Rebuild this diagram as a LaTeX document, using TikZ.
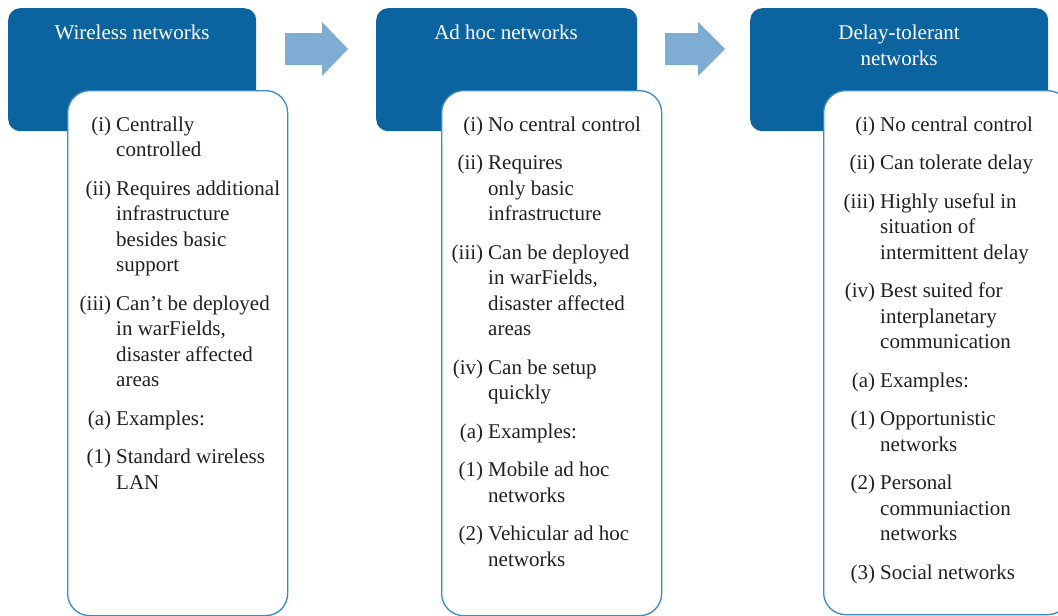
\documentclass[tikz,border=0pt]{standalone}
\usepackage{fontspec}
\setmainfont{Liberation Serif}
\usepackage{array}
\definecolor{hdrblue}{HTML}{0B64A0}
\definecolor{arrblue}{HTML}{7EACD2}
\definecolor{edgeblue}{HTML}{3A89C9}
\definecolor{txtgray}{HTML}{231F20}
\newcommand{\lb}[1]{\makebox[40pt][r]{#1}}
\begin{document}
\begin{tikzpicture}[x=1pt,y=-1pt,
  hdr/.style={fill=hdrblue, draw=none, rounded corners=12pt, anchor=north west, inner sep=0},
  card/.style={fill=white, draw=edgeblue, line width=1.3pt, rounded corners=22pt, anchor=north west, inner sep=0},
  flow/.style={fill=arrblue, draw=none},
  hdrtext/.style={text=white, font=\fontsize{21}{26}\selectfont, inner sep=0, anchor=base},
  listtext/.style={text=txtgray, font=\fontsize{21}{25.5}\selectfont, inner sep=0, anchor=base west}]
\useasboundingbox (0,0) rectangle (1058,616);
\fill[white] (0,0) rectangle (1058,616);
\begin{scope}
\clip (0,0) rectangle (1058,616);
% header boxes
\node[hdr, minimum width=248pt, minimum height=123pt] (h1) at (8,8) {};
\node[hdr, minimum width=261pt, minimum height=123pt] (h2) at (376,8) {};
\node[hdr, minimum width=298pt, minimum height=123pt] (h3) at (750,8) {};
% block arrows
\fill[flow] (285,33) -- (322,33) -- (322,22) -- (348,49) -- (322,76) -- (322,65) -- (285,65) -- cycle;
\fill[flow] (665,33) -- (698,33) -- (698,22) -- (725,49) -- (698,76) -- (698,65) -- (665,65) -- cycle;
% cards
\node[card, minimum width=220pt, minimum height=525pt] (c1) at (67,90) {};
\node[card, minimum width=220pt, minimum height=525pt] (c2) at (441,90) {};
\node[card, minimum width=246pt, minimum height=524pt] (c3) at (823,90) {};
\end{scope}
% header titles
\node[hdrtext] (t1) at (132,39) {Wireless networks};
\node[hdrtext] (t2) at (506,39) {Ad hoc networks};
\node[hdrtext] (t3) at (899,39) {\begin{tabular}[t]{@{}c@{}}Delay-tolerant\\networks\end{tabular}};
% lists
\node[listtext] (l1) at (71,131) {\begin{tabular}[t]{@{}r@{\hspace{5pt}}l@{}}
\lb{(i)} & Centrally\\ & controlled\\[13pt]
\lb{(ii)} & Requires additional\\ & infrastructure\\ & besides basic\\ & support\\[13pt]
\lb{(iii)} & Can’t be deployed\\ & in warFields,\\ & disaster affected\\ & areas\\[13pt]
\lb{(a)} & Examples:\\[13pt]
\lb{(1)} & Standard wireless\\ & LAN
\end{tabular}};
\node[listtext] (l2) at (443,131) {\begin{tabular}[t]{@{}r@{\hspace{5pt}}l@{}}
\lb{(i)} & No central control\\[13pt]
\lb{(ii)} & Requires\\ & only basic\\ & infrastructure\\[13pt]
\lb{(iii)} & Can be deployed\\ & in warFields,\\ & disaster affected\\ & areas\\[13pt]
\lb{(iv)} & Can be setup\\ & quickly\\[13pt]
\lb{(a)} & Examples:\\[13pt]
\lb{(1)} & Mobile ad hoc\\ & networks\\[13pt]
\lb{(2)} & Vehicular ad hoc\\ & networks
\end{tabular}};
\node[listtext] (l3) at (835,131) {\begin{tabular}[t]{@{}r@{\hspace{5pt}}l@{}}
\lb{(i)} & No central control\\[13pt]
\lb{(ii)} & Can tolerate delay\\[13pt]
\lb{(iii)} & Highly useful in\\ & situation of\\ & intermittent delay\\[13pt]
\lb{(iv)} & Best suited for\\ & interplanetary\\ & communication\\[13pt]
\lb{(a)} & Examples:\\[13pt]
\lb{(1)} & Opportunistic\\ & networks\\[13pt]
\lb{(2)} & Personal\\ & communiaction\\ & networks\\[13pt]
\lb{(3)} & Social networks
\end{tabular}};
\end{tikzpicture}
\end{document}
